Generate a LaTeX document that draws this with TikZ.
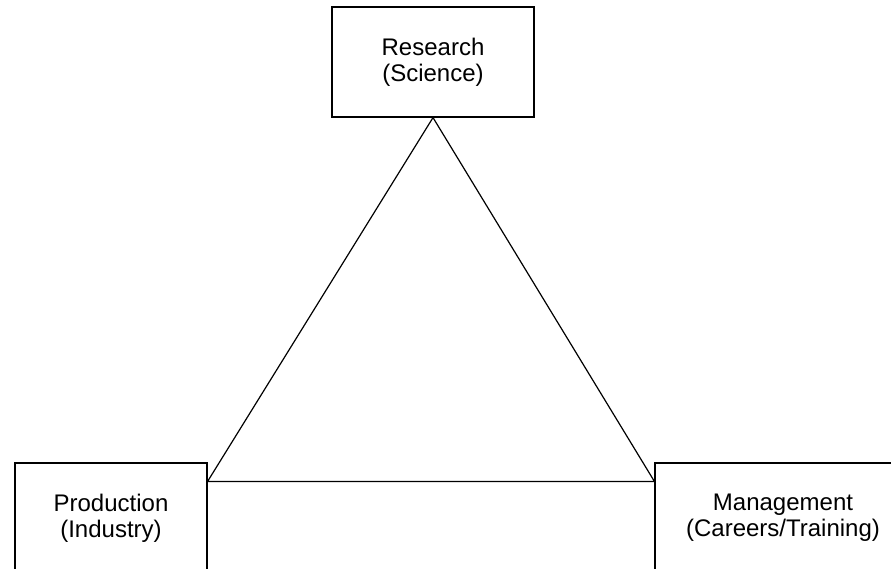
\documentclass[tikz,border=0pt]{standalone}
\usepackage{fontspec}
\setmainfont{Liberation Sans}
\begin{document}
\begin{tikzpicture}[x=1pt,y=1pt,
  box/.style={draw, line width=1.2pt, inner sep=0pt, align=center,
    font=\fontsize{24}{26}\selectfont},
  edge/.style={line width=1.2pt}]
\useasboundingbox (0,0) rectangle (891,568);
\clip (0,0) rectangle (891,568);
\fill[white] (0,0) rectangle (891,568);
\node[box, minimum width=202pt, minimum height=110pt] (T) at (433,506) {Research\\(Science)};
\node[box, minimum width=192pt, minimum height=110pt] (L) at (111,50) {Production\\(Industry)};
\node[box, minimum width=256pt, minimum height=110pt] (R) at (783,50) {Management\\(Careers/Training)};
\coordinate (bl) at ([yshift=-19pt]L.north east);
\coordinate (br) at ([yshift=-19pt]R.north west);
\draw[edge, line join=miter] (T.south) -- (bl) -- (br) -- cycle;
\end{tikzpicture}
\end{document}
